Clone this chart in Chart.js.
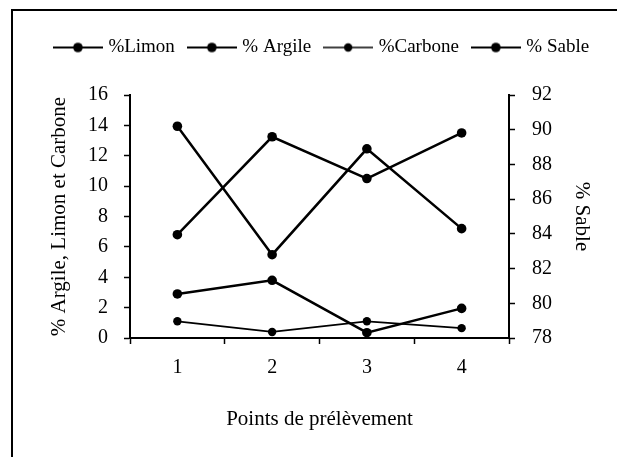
<!DOCTYPE html>
<html lang="fr">
<head>
<meta charset="utf-8">
<title>Points de prélèvement</title>
<script src="https://cdn.jsdelivr.net/npm/chart.js@4/dist/chart.umd.min.js"></script>
<style>
  html, body { margin: 0; padding: 0; background: #fff; }
  #wrap { position: relative; width: 617px; height: 457px; }
</style>
</head>
<body>
<div id="wrap"><canvas id="soilChart" width="617" height="457"></canvas></div>
<script>
// données
const points = ['1', '2', '3', '4'];
const limon = [6.8, 13.25, 10.5, 13.5];
const argile = [2.9, 3.8, 0.35, 1.95];
const carbone = [1.1, 0.4, 1.1, 0.65];
const sable = [90.2, 82.8, 88.9, 84.3];

const leftTicks = { min: 0, max: 16, step: 2 };
const rightTicks = { min: 78, max: 92, step: 2 };

const FONT = "'Liberation Serif', 'Times New Roman', serif";

document.addEventListener('DOMContentLoaded', function () {
    const ctx = document.getElementById('soilChart');
    if (!ctx) return;

    const padL = 36, padR = 7, padT = 22, padB = 21;

    // petit symbole de légende : trait + point
    function legendMark(lineW, r) {
        const c = document.createElement('canvas');
        c.width = 50;
        c.height = 14;
        const g = c.getContext('2d');
        g.strokeStyle = '#000';
        g.fillStyle = '#000';
        g.lineWidth = lineW;
        g.beginPath();
        g.moveTo(0, 7);
        g.lineTo(50, 7);
        g.stroke();
        g.beginPath();
        g.arc(25, 7, r, 0, Math.PI * 2);
        g.fill();
        return c;
    }

    // cadre (haut + gauche) comme sur la figure scannée
    const framePlugin = {
        id: 'frame',
        beforeInit(chart) {
            // un peu plus d'espace sous la légende
            const legend = chart.legend;
            if (!legend) return;
            const fit = legend.fit;
            legend.fit = function () {
                fit.call(this);
                this.height += 28;
            };
        },
        afterDraw(chart) {
            const g = chart.ctx;
            g.save();
            g.strokeStyle = '#000';
            g.lineWidth = 2;
            g.beginPath();
            g.moveTo(617, 10);
            g.lineTo(12, 10);
            g.lineTo(12, 457);
            g.stroke();
            g.restore();
        }
    };

    function serie(label, data, axis, lw, r) {
        return {
            label: label,
            data: data,
            yAxisID: axis,
            borderColor: '#000',
            backgroundColor: '#000',
            borderWidth: lw,
            pointStyle: 'circle',
            pointRadius: r,
            pointHoverRadius: r,
            pointBackgroundColor: '#000',
            pointBorderWidth: 0,
            legendMark: legendMark(lw * 0.8, r),
            tension: 0,
            fill: false
        };
    }

    new Chart(ctx, {
        type: 'line',
        data: {
            labels: points,
            datasets: [
                serie('%Limon', limon, 'y', 2.5, 4.8),
                serie('% Argile', argile, 'y', 2.5, 4.8),
                serie('%Carbone', carbone, 'y', 1.8, 4.2),
                serie('% Sable', sable, 'y1', 2.5, 4.8)
            ]
        },
        options: {
            responsive: false,
            animation: false,
            layout: { padding: { left: padL, right: padR, top: padT, bottom: padB } },
            plugins: {
                tooltip: { enabled: false },
                legend: {
                    display: true,
                    position: 'top',
                    labels: {
                        usePointStyle: true,
                        pointStyleWidth: 42,
                        boxHeight: 14,
                        padding: 16,
                        color: '#000',
                        font: { family: FONT, size: 19 },
                        generateLabels(chart) {
                            return chart.data.datasets.map((ds, i) => ({
                                text: ds.label,
                                pointStyle: ds.legendMark,
                                fillStyle: '#000',
                                strokeStyle: '#000',
                                lineWidth: 0,
                                hidden: false,
                                datasetIndex: i
                            }));
                        }
                    }
                }
            },
            scales: {
                x: {
                    type: 'category',
                    offset: true,
                    grid: {
                        offset: true,
                        drawOnChartArea: false,
                        drawTicks: true,
                        tickLength: 6,
                        tickColor: '#000',
                        tickWidth: 1.5
                    },
                    border: { display: true, color: '#000', width: 2 },
                    ticks: { color: '#000', padding: 12, font: { family: FONT, size: 20 } },
                    title: {
                        display: true,
                        text: 'Points de prélèvement',
                        color: '#000',
                        padding: { top: 4, bottom: 4 },
                        font: { family: FONT, size: 21 }
                    },
                    afterFit(scale) { scale.height = 457 - padB - 338; }
                },
                y: {
                    position: 'left',
                    min: leftTicks.min,
                    max: leftTicks.max,
                    grid: {
                        drawOnChartArea: false,
                        drawTicks: true,
                        tickLength: 6,
                        tickColor: '#000',
                        tickWidth: 1.5
                    },
                    border: { display: true, color: '#000', width: 2 },
                    ticks: {
                        stepSize: leftTicks.step,
                        color: '#000',
                        padding: 16,
                        font: { family: FONT, size: 20 }
                    },
                    title: {
                        display: true,
                        text: '% Argile, Limon et Carbone',
                        color: '#000',
                        padding: { top: 4 + 43 - padL, bottom: 4 },
                        font: { family: FONT, size: 21 }
                    },
                    afterFit(scale) { scale.width = 130 - padL; }
                },
                y1: {
                    position: 'right',
                    min: rightTicks.min,
                    max: rightTicks.max,
                    grid: {
                        drawOnChartArea: false,
                        drawTicks: true,
                        tickLength: 6,
                        tickColor: '#000',
                        tickWidth: 1.5
                    },
                    border: { display: true, color: '#000', width: 2 },
                    ticks: {
                        stepSize: rightTicks.step,
                        color: '#000',
                        padding: 17,
                        font: { family: FONT, size: 20 }
                    },
                    title: {
                        display: true,
                        text: '% Sable',
                        color: '#000',
                        padding: { top: 4 + 19 - padR, bottom: 4 },
                        font: { family: FONT, size: 21 }
                    },
                    afterFit(scale) { scale.width = 617 - padR - 509; }
                }
            }
        },
        plugins: [framePlugin]
    });
});
</script>
</body>
</html>
